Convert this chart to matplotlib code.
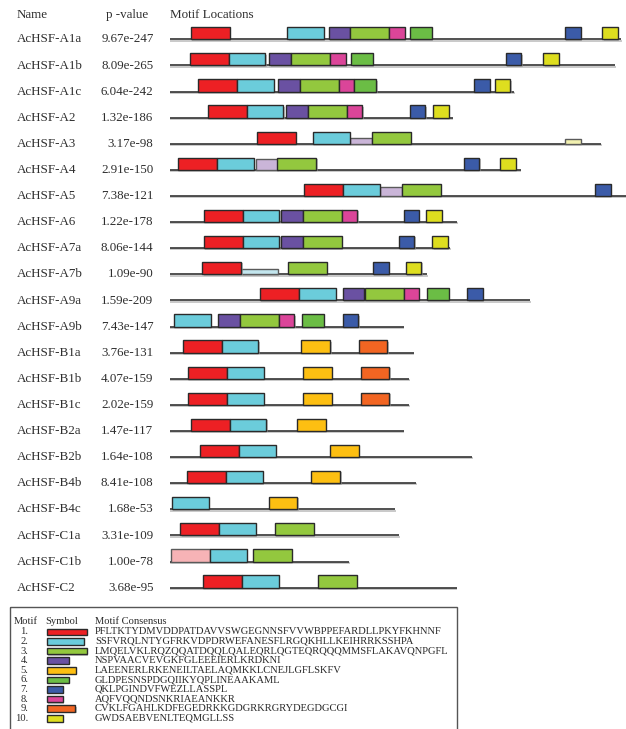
import matplotlib
matplotlib.use("Agg")
import matplotlib.pyplot as plt
from matplotlib.patches import Rectangle
from matplotlib import patheffects as pe
from matplotlib import transforms

plt.rcParams['font.family'] = ['Liberation Serif', 'DejaVu Serif']

# ---- gene names and MEME combined p-values ----
names = ["AcHSF-A1a", "AcHSF-A1b", "AcHSF-A1c", "AcHSF-A2", "AcHSF-A3", "AcHSF-A4",
         "AcHSF-A5", "AcHSF-A6", "AcHSF-A7a", "AcHSF-A7b", "AcHSF-A9a", "AcHSF-A9b",
         "AcHSF-B1a", "AcHSF-B1b", "AcHSF-B1c", "AcHSF-B2a", "AcHSF-B2b", "AcHSF-B4b",
         "AcHSF-B4c", "AcHSF-C1a", "AcHSF-C1b", "AcHSF-C2"]
pvalues = ["9.67e-247", "8.09e-265", "6.04e-242", "1.32e-186", "3.17e-98", "2.91e-150",
           "7.38e-121", "1.22e-178", "8.06e-144", "1.09e-90", "1.59e-209", "7.43e-147",
           "3.76e-131", "4.07e-159", "2.02e-159", "1.47e-117", "1.64e-108", "8.41e-108",
           "1.68e-53", "3.31e-109", "1.00e-78", "3.68e-95"]
# protein lengths (aa)
seq_lengths = [579, 571, 442, 363, 553, 450, 600, 369, 360, 330, 462, 300,
               313, 307, 307, 300, 388, 316, 289, 294, 230, 368]

# motif hits per sequence: (motif number, start aa, weak hit, relative height)
hits = [
    [(1, 27, 0, 1), (2, 151, 0, 1), (4, 204, 0, 1), (3, 232, 0, 1), (8, 282, 0, 1),
     (6, 308, 0, 1), (7, 507, 0, 1), (10, 555, 0, 1)],
    [(1, 26, 0, 1), (2, 76, 0, 1), (4, 128, 0, 1), (3, 156, 0, 1), (8, 206, 0, 1),
     (6, 233, 0, 1), (7, 431, 0, 1), (10, 479, 0, 1)],
    [(1, 37, 0, 1), (2, 87, 0, 1), (4, 139, 0, 1), (3, 167, 0, 1), (8, 217, 0, 1),
     (6, 237, 0, 1), (7, 391, 0, 1), (10, 417, 0, 1)],
    [(1, 49, 0, 1), (2, 99, 0, 1), (4, 149, 0, 1), (3, 177, 0, 1), (8, 227, 0, 1),
     (7, 308, 0, 1), (10, 338, 0, 1)],
    [(1, 112, 0, 1), (2, 184, 0, 1), (4, 231, 1, 0.46), (3, 259, 0, 1), (10, 507, 1, 0.40)],
    [(1, 11, 0, 1), (2, 61, 0, 1), (4, 111, 1, 0.87), (3, 138, 0, 1), (7, 377, 0, 1),
     (10, 424, 0, 1)],
    [(1, 173, 0, 1), (2, 223, 0, 1), (4, 270, 1, 0.70), (3, 298, 0, 1), (7, 546, 0, 1)],
    [(1, 44, 0, 1), (2, 94, 0, 1), (4, 143, 0, 1), (3, 171, 0, 1), (8, 221, 0, 1),
     (7, 300, 0, 1), (10, 329, 0, 1)],
    [(1, 44, 0, 1), (2, 94, 0, 1), (4, 143, 0, 1), (3, 171, 0, 1), (7, 294, 0, 1),
     (10, 337, 0, 1)],
    [(1, 42, 0, 1), (2, 92, 1, 0.46), (3, 152, 0, 1), (7, 261, 0, 1), (10, 303, 0, 1)],
    [(1, 116, 0, 1), (2, 166, 0, 1), (4, 222, 0, 1), (3, 250, 0, 1), (8, 300, 0, 1),
     (6, 330, 0, 1), (7, 382, 0, 1)],
    [(2, 6, 0, 1), (4, 62, 0, 1), (3, 90, 0, 1), (8, 140, 0, 1), (6, 170, 0, 1),
     (7, 222, 0, 1)],
    [(1, 17, 0, 1), (2, 67, 0, 1), (5, 169, 0, 1), (9, 243, 0, 1)],
    [(1, 24, 0, 1), (2, 74, 0, 1), (5, 171, 0, 1), (9, 246, 0, 1)],
    [(1, 24, 0, 1), (2, 74, 0, 1), (5, 171, 0, 1), (9, 246, 0, 1)],
    [(1, 27, 0, 1), (2, 77, 0, 1), (5, 163, 0, 1)],
    [(1, 39, 0, 1), (2, 89, 0, 1), (5, 206, 0, 1)],
    [(1, 23, 0, 1), (2, 73, 0, 1), (5, 182, 0, 1)],
    [(2, 3, 0, 1), (5, 127, 0, 1)],
    [(1, 14, 0, 1), (2, 64, 0, 1), (3, 135, 0, 1)],
    [(1, 2, 1, 1.0), (2, 52, 0, 1), (3, 107, 0, 1)],
    [(1, 43, 0, 1), (2, 93, 0, 1), (3, 190, 0, 1)],
]

# ---- motif consensus sequences and colours ----
consensus = [
    "PFLTKTYDMVDDPATDAVVSWGEGNNSFVVWBPPEFARDLLPKYFKHNNF",
    "SSFVRQLNTYGFRKVDPDRWEFANESFLRGQKHLLKEIHRRKSSHPA",
    "LMQELVKLRQZQQATDQQLQALEQRLQGTEQRQQQMMSFLAKAVQNPGFL",
    "NSPVAACVEVGKFGLEEEIERLKRDKNI",
    "LAEENERLRKENEILTAELAQMKKLCNEJLGFLSKFV",
    "GLDPESNSPDGQIIKYQPLINEAAKAML",
    "QKLPGINDVFWEZLLASSPL",
    "AQFVQQNDSNKRIAEANKKR",
    "CVKLFGAHLKDFEGEDRKKGDGRKRGRYDEGDGCGI",
    "GWDSAEBVENLTEQMGLLSS",
]
motif_colors = ["#ED2024", "#6BCCDB", "#93C83E", "#6A51A2", "#FDBF12",
                "#6BBD45", "#3B5BA8", "#DB4599", "#F26522", "#DEDE1F"]
weak_colors = {1: "#F7B3B6", 2: "#C3E6EE", 4: "#CAB5D8", 10: "#F2F1B0"}

W, H, DPI = 626, 729, 100
fig = plt.figure(figsize=(W / DPI, H / DPI), dpi=DPI)
fig.patch.set_facecolor("white")

# overlay in pixel units for text and the key
ax_t = fig.add_axes([0, 0, 1, 1])
ax_t.set_xlim(0, W)
ax_t.set_ylim(H, 0)
ax_t.axis("off")

# track axes: x in amino acids, y in row index
px_per_aa = 0.78
x0_px = 169.5
row0_px, row_step = 39.3, 26.11
ax = fig.add_axes([x0_px / W, 0, (W - x0_px) / W, 1])
ax.set_xlim(0, (W - x0_px) / px_per_aa)
ax.set_ylim((H - row0_px) / row_step, -row0_px / row_step)
ax.axis("off")

box_h = 12.2 / row_step
shadow = [pe.SimplePatchShadow(offset=(1.0, -1.0), shadow_rgbFace="#9a9a9a", alpha=0.6),
          pe.Normal()]
line_shadow = [pe.SimpleLineShadow(offset=(0.6, -0.9), shadow_color="#b0b0b0", alpha=0.8),
               pe.Normal()]

for i, (length, row) in enumerate(zip(seq_lengths, hits)):
    ax.plot([0, length], [i, i], color="#333333", lw=1.2, solid_capstyle="butt",
            zorder=1, path_effects=line_shadow)
    for motif, start, weak, hfrac in row:
        width = len(consensus[motif - 1])
        h = box_h * hfrac
        face = weak_colors[motif] if weak else motif_colors[motif - 1]
        edge = "#5a5a5a" if weak else "#2a2a2a"
        r = Rectangle((start, i - h), width, h, facecolor=face, edgecolor=edge,
                      lw=1.0, zorder=3 if not weak else 2)
        r.set_path_effects(shadow)
        ax.add_patch(r)

# names and p-values aligned to the track rows
blend = transforms.blended_transform_factory(ax_t.transData, ax.transData)
txt_kw = dict(fontsize=9.4, color="#2e2e2e", va="baseline")
for i, (n, p) in enumerate(zip(names, pvalues)):
    ax.text(16.5, i + 0.12, n, transform=blend, ha="left", **txt_kw)
    ax.text(153.5, i + 0.12, p, transform=blend, ha="right", **txt_kw)

ax_t.text(16.5, 17.5, "Name", ha="left", **txt_kw)
ax_t.text(106.5, 17.5, "p -value", ha="left", **txt_kw)
ax_t.text(169.5, 17.5, "Motif Locations", ha="left", **txt_kw)

# ---- key box ----
ax_t.add_patch(Rectangle((10, 607.3), 447.3, 130, facecolor="none",
                         edgecolor="#555555", lw=1.0, zorder=1))
key_kw = dict(fontsize=7.6, color="#2a2a2a", va="baseline")
ax_t.text(14, 624, "Motif", ha="left", **key_kw)
ax_t.text(45.7, 624, "Symbol", ha="left", **key_kw)
ax_t.text(95, 624, "Motif Consensus", ha="left", **key_kw)
key_step = 9.6
for k, seq in enumerate(consensus):
    yb = 634.3 + k * key_step
    ax_t.text(28.5, yb, f"{k + 1}.", ha="right", **key_kw)
    ax_t.text(95, yb, seq, ha="left", **key_kw)
    bw = len(seq) * 0.8
    r = Rectangle((46.5, yb - 5.8), bw, 6.6, facecolor=motif_colors[k],
                  edgecolor="#2a2a2a", lw=1.0, zorder=3)
    r.set_path_effects(shadow)
    ax_t.add_patch(r)

fig.savefig("out.png", dpi=DPI, facecolor="white")
